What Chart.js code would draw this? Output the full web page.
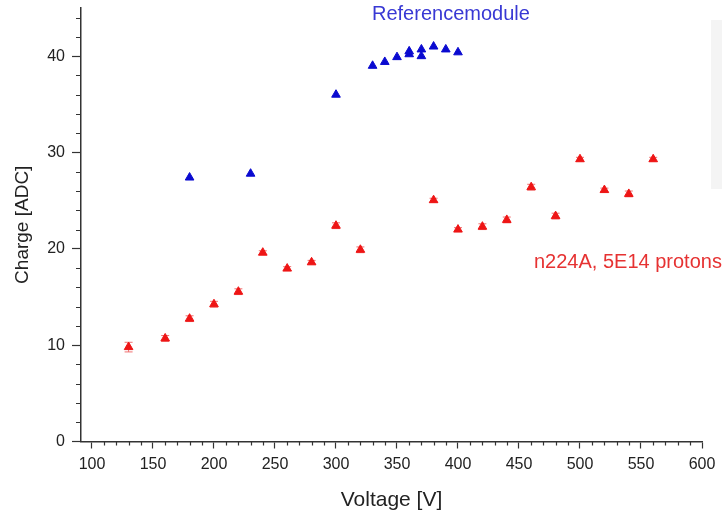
<!DOCTYPE html>
<html>
<head>
<meta charset="utf-8">
<script src="https://cdn.jsdelivr.net/npm/chart.js@4"></script>
<style>
  html, body { margin: 0; padding: 0; background: #fff; }
  #wrap { width: 722px; height: 513px; }
</style>
</head>
<body>
<div id="wrap"><canvas id="chargeChart" width="722" height="513"></canvas></div>
<script>
// Referencemodule (blue)
const refVoltage = [180, 230, 300, 330, 340, 350, 360, 360, 370, 370, 380, 390, 400];
const refCharge  = [27.4, 27.8, 36.0, 39.0, 39.4, 39.9, 40.2, 40.5, 40.7, 40.0, 41.0, 40.7, 40.4];

// n224A, 5E14 protons (red)
const n224Voltage = [130, 160, 180, 200, 220, 240, 260, 280, 300, 320, 380, 400, 420, 440, 460, 480, 500, 520, 540, 560];
const n224Charge  = [9.8, 10.7, 12.75, 14.25, 15.55, 19.6, 17.95, 18.6, 22.4, 19.9, 25.05, 22.0, 22.3, 23.0, 26.4, 23.4, 29.3, 26.1, 25.7, 29.3];
const n224Error   = [0.5, 0.3, 0.3, 0.3, 0.3, 0.2, 0.2, 0.2, 0.3, 0.3, 0.2, 0.2, 0.3, 0.3, 0.3, 0.3, 0.2, 0.2, 0.3, 0.2];

const xTicks = [100, 150, 200, 250, 300, 350, 400, 450, 500, 550, 600];
const yTicks = [0, 10, 20, 30, 40];

const FONT = '"Liberation Sans", Arial, sans-serif';
const AXIS_COLOR = '#333';

function toPoints(xs, ys) {
    return xs.map((x, i) => ({ x: x, y: ys[i] }));
}

// minor ticks, error bars, labels and the grey strip at the right edge
const extrasPlugin = {
    id: 'extras',
    beforeDraw(chart) {
        const ctx = chart.ctx;
        ctx.save();
        ctx.fillStyle = '#f4f4f4';
        ctx.fillRect(711, 20, 11, 169);
        ctx.restore();
    },
    beforeDatasetsDraw(chart) {
        const ctx = chart.ctx;
        const xs = chart.scales.x, ys = chart.scales.y;
        ctx.save();
        ctx.strokeStyle = '#f07070';
        ctx.lineWidth = 1;
        n224Voltage.forEach((v, i) => {
            const px = xs.getPixelForValue(v);
            const top = ys.getPixelForValue(n224Charge[i] + n224Error[i]);
            const bot = ys.getPixelForValue(n224Charge[i] - n224Error[i]);
            ctx.beginPath();
            ctx.moveTo(px, top); ctx.lineTo(px, bot);
            ctx.moveTo(px - 4, top); ctx.lineTo(px + 4, top);
            ctx.moveTo(px - 4, bot); ctx.lineTo(px + 4, bot);
            ctx.stroke();
        });
        ctx.restore();
    },
    afterDraw(chart) {
        const ctx = chart.ctx;
        const xs = chart.scales.x, ys = chart.scales.y;
        const area = chart.chartArea;
        ctx.save();
        ctx.strokeStyle = AXIS_COLOR;
        ctx.lineWidth = 1.2;
        ctx.beginPath();
        for (let v = 100; v <= 600; v += 10) {
            if (v % 50 === 0) continue;
            const px = Math.round(xs.getPixelForValue(v)) + 0.5;
            ctx.moveTo(px, area.bottom);
            ctx.lineTo(px, area.bottom + 4);
        }
        for (let v = 2; v <= 44; v += 2) {
            if (v % 10 === 0) continue;
            const py = Math.round(ys.getPixelForValue(v)) + 0.5;
            ctx.moveTo(area.left, py);
            ctx.lineTo(area.left - 5, py);
        }
        ctx.stroke();

        ctx.font = '20px ' + FONT;
        ctx.textBaseline = 'alphabetic';
        ctx.fillStyle = '#3838d4';
        ctx.fillText('Referencemodule', 372, 20);
        ctx.fillStyle = '#e63232';
        ctx.fillText('n224A, 5E14 protons', 534, 268);
        ctx.restore();
    }
};

new Chart(document.getElementById('chargeChart'), {
    type: 'scatter',
    data: {
        datasets: [
            {
                label: 'Referencemodule',
                data: toPoints(refVoltage, refCharge),
                pointStyle: 'triangle',
                pointRadius: 5,
                backgroundColor: '#0a0ad0',
                borderColor: '#0a0ad0',
                borderWidth: 1
            },
            {
                label: 'n224A, 5E14 protons',
                data: toPoints(n224Voltage, n224Charge),
                pointStyle: 'triangle',
                pointRadius: 5,
                backgroundColor: '#ee1515',
                borderColor: '#ee1515',
                borderWidth: 1
            }
        ]
    },
    options: {
        responsive: false,
        animation: false,
        layout: { padding: { left: 0, right: 20, top: 8, bottom: 0 } },
        plugins: {
            legend: { display: false },
            tooltip: { enabled: false }
        },
        scales: {
            x: {
                type: 'linear',
                min: 91,
                max: 600,
                afterBuildTicks: s => { s.ticks = xTicks.map(v => ({ value: v })); },
                afterFit: s => { s.height = 71.5; s.paddingLeft = 0; s.paddingRight = 0; },
                grid: {
                    drawOnChartArea: false,
                    tickLength: 7,
                    tickColor: AXIS_COLOR,
                    tickWidth: 1.2
                },
                border: { color: AXIS_COLOR, width: 1.5 },
                ticks: {
                    autoSkip: false,
                    maxRotation: 0,
                    padding: 6,
                    color: '#222',
                    font: { family: FONT, size: 16 }
                },
                title: {
                    display: true,
                    text: 'Voltage [V]',
                    color: '#222',
                    font: { family: FONT, size: 21 },
                    padding: { top: 2, bottom: 0 }
                }
            },
            y: {
                type: 'linear',
                min: 0,
                max: 45,
                afterBuildTicks: s => { s.ticks = yTicks.map(v => ({ value: v })); },
                afterFit: s => { s.width = 81; s.paddingTop = 0; s.paddingBottom = 0; },
                grid: {
                    drawOnChartArea: false,
                    tickLength: 9,
                    tickColor: AXIS_COLOR,
                    tickWidth: 1.2
                },
                border: { color: AXIS_COLOR, width: 1.5 },
                ticks: {
                    padding: 7,
                    color: '#222',
                    font: { family: FONT, size: 16 }
                },
                title: {
                    display: true,
                    text: 'Charge [ADC]',
                    color: '#222',
                    font: { family: FONT, size: 19 },
                    padding: { top: 11, bottom: 0 }
                }
            }
        }
    },
    plugins: [extrasPlugin]
});
</script>
</body>
</html>
